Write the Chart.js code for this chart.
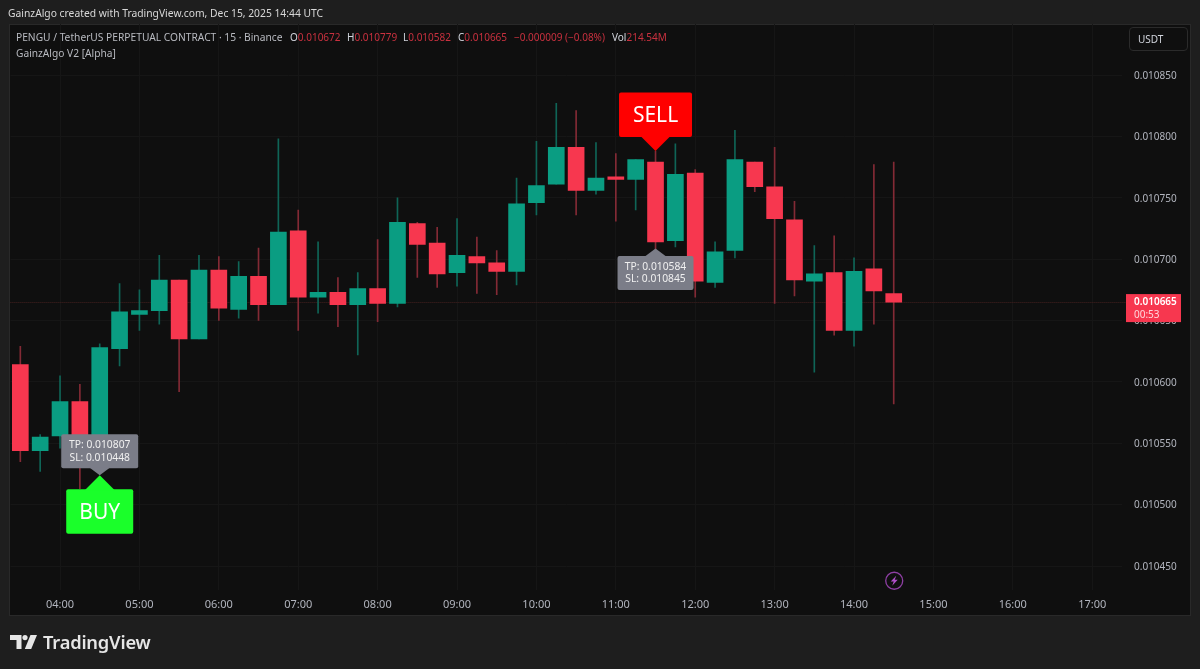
<!DOCTYPE html>
<html>
<head>
<meta charset="utf-8">
<title>PENGU / TetherUS</title>
<script src="https://cdn.jsdelivr.net/npm/chart.js@4"></script>
<style>
  html, body { margin: 0; padding: 0; width: 1200px; height: 669px; overflow: hidden; background: #1e1e1e; }
  body { position: relative; font-family: "Noto Sans", sans-serif; color: #d1d4dc; }
  #panel { position: absolute; left: 9px; top: 24px; width: 1180px; height: 590px; background: #0f0f0f; border: 1px solid #292929; }
  canvas { position: absolute; left: 0; top: 0; }
  .txt { position: absolute; white-space: nowrap; font-size: 10px; line-height: 14px; }
  .red { color: #c9313f; }
  #usdt { position: absolute; left: 1129px; top: 27px; width: 57px; height: 22px; border: 1px solid #2b2b2b; border-radius: 4px;
          font-size: 10px; line-height: 22px; text-indent: 8px; color: #d1d4dc; }
  #logo { position: absolute; left: 10px; top: 635px; }
  #brand { position: absolute; left: 43px; top: 628px; font-size: 18.3px; line-height: 28px; font-weight: 600; color: #e6e6e6; letter-spacing: -0.2px; }
</style>
</head>
<body>
<div id="panel"></div>
<canvas id="chart" width="1200" height="669"></canvas>

<div class="txt" style="left:8px;top:6px;color:#d8d8d8;font-size:10.3px">GainzAlgo created with TradingView.com, Dec 15, 2025 14:44 UTC</div>
<div class="txt" style="left:16px;top:30px;color:#b8bac0;font-size:10.23px">PENGU / TetherUS PERPETUAL CONTRACT · 15 · Binance</div>
<div class="txt" style="left:290px;top:30px">O<span class="red">0.010672</span></div>
<div class="txt" style="left:347px;top:30px">H<span class="red">0.010779</span></div>
<div class="txt" style="left:403px;top:30px">L<span class="red">0.010582</span></div>
<div class="txt" style="left:458px;top:30px">C<span class="red">0.010665</span></div>
<div class="txt red" style="left:514px;top:30px">−0.000009 (−0.08%)</div>
<div class="txt" style="left:612px;top:30px">Vol<span class="red">214.54M</span></div>
<div class="txt" style="left:16px;top:46px;color:#b8bac0;font-size:10.2px">GainzAlgo V2 [Alpha]</div>
<div id="usdt">USDT</div>

<svg id="logo" width="28" height="15" viewBox="0 0 28 15">
  <path fill="#e6e6e6" d="M0 0h11.5v14h-5V5H0z"/>
  <circle fill="#e6e6e6" cx="15" cy="2.6" r="2.6"/>
  <path fill="#e6e6e6" d="M20.5 0H27l-5.8 14h-6.4z"/>
</svg>
<div id="brand">TradingView</div>

<script>
const times = [
  '03:30','03:45','04:00','04:15','04:30','04:45','05:00','05:15','05:30','05:45',
  '06:00','06:15','06:30','06:45','07:00','07:15','07:30','07:45','08:00','08:15',
  '08:30','08:45','09:00','09:15','09:30','09:45','10:00','10:15','10:30','10:45',
  '11:00','11:15','11:30','11:45','12:00','12:15','12:30','12:45','13:00','13:15',
  '13:30','13:45','14:00','14:15','14:30','14:45','15:00','15:15','15:30','15:45',
  '16:00','16:15','16:30','16:45','17:00','17:15'
];
const opens = [
  0.010614,0.010544,0.010556,0.010584,0.010555,0.010627,0.010655,0.010658,0.010683,0.010635,
  0.010691,0.010659,0.010686,0.010663,0.010723,0.010669,0.010673,0.010663,0.010676,0.010664,
  0.010729,0.010713,0.010689,0.010702,0.010697,0.010690,0.010746,0.010761,0.010791,0.010756,
  0.010767,0.010765,0.010779,0.010715,0.010770,0.010681,0.010707,0.010779,0.010759,0.010732,
  0.010682,0.010689,0.010642,0.010692,0.010672
];
const highs = [
  0.010629,0.010557,0.010605,0.010598,0.010631,0.010680,0.010675,0.010703,0.010683,0.010703,
  0.010702,0.010698,0.010709,0.010798,0.010740,0.010714,0.010685,0.010689,0.010716,0.010750,
  0.010730,0.010726,0.010733,0.010718,0.010707,0.010766,0.010796,0.010827,0.010821,0.010795,
  0.010786,0.010781,0.010788,0.010794,0.010773,0.010714,0.010805,0.010779,0.010791,0.010747,
  0.010711,0.010719,0.010701,0.010777,0.010779
];
const lows = [
  0.010535,0.010527,0.010546,0.010513,0.010552,0.010613,0.010642,0.010647,0.010592,0.010635,
  0.010650,0.010652,0.010650,0.010663,0.010642,0.010656,0.010645,0.010622,0.010649,0.010661,
  0.010685,0.010677,0.010678,0.010672,0.010671,0.010679,0.010736,0.010761,0.010736,0.010753,
  0.010731,0.010740,0.010703,0.010710,0.010669,0.010677,0.010701,0.010755,0.010664,0.010670,
  0.010608,0.010638,0.010629,0.010647,0.010582
];
const closes = [
  0.010544,0.010555,0.010584,0.010555,0.010628,0.010657,0.010658,0.010683,0.010635,0.010691,
  0.010660,0.010686,0.010663,0.010722,0.010669,0.010673,0.010663,0.010676,0.010664,0.010730,
  0.010712,0.010688,0.010703,0.010697,0.010690,0.010745,0.010760,0.010791,0.010756,0.010766,
  0.010765,0.010781,0.010714,0.010769,0.010682,0.010706,0.010781,0.010759,0.010733,0.010683,
  0.010688,0.010642,0.010690,0.010674,0.010665
];
const priceTicks = [0.01045,0.0105,0.01055,0.0106,0.01065,0.0107,0.01075,0.0108,0.01085];
const hourLabels = ['04:00','05:00','06:00','07:00','08:00','09:00','10:00','11:00','12:00','13:00','14:00','15:00','16:00','17:00'];

const lastPrice = 0.010665;
const countdown = '00:53';
const buySignal = { time: '04:30', price: 0.010524, tp: 'TP: 0.010807', sl: 'SL: 0.010448' };
const sellSignal = { time: '11:30', price: 0.010788, tp: 'TP: 0.010584', sl: 'SL: 0.010845' };
const alertTime = '14:30';
const alertPrice = 0.010438;

const UP = '#0a9d82', DOWN = '#f7374f';
const UP_WICK = '#0f6557', DOWN_WICK = '#832a35';
const FONT = '"Noto Sans", sans-serif';
Chart.defaults.font.family = FONT;

function roundBox(ctx, x, y, w, h, r) {
  ctx.beginPath();
  ctx.roundRect(x, y, w, h, r);
  ctx.fill();
}

function drawSignal(ctx, scales, sig, side) {
  const x = scales.x.getPixelForValue(times.indexOf(sig.time));
  const tip = scales.y.getPixelForValue(sig.price);
  const dir = side === 'BUY' ? 1 : -1;   // callout hangs below for buy, above for sell
  const boxH = 44.5;
  const boxTop = dir > 0 ? tip + 14 : tip - 14 - boxH;
  const boxW = side === 'BUY' ? 67 : 73;

  ctx.fillStyle = side === 'BUY' ? '#1aff2a' : '#ff0000';
  roundBox(ctx, x - boxW / 2, boxTop, boxW, boxH, 2);
  ctx.beginPath();
  ctx.moveTo(x, tip);
  ctx.lineTo(x - 15, tip + dir * 15);
  ctx.lineTo(x + 15, tip + dir * 15);
  ctx.fill();
  ctx.fillStyle = '#ffffff';
  ctx.font = '21px ' + FONT;
  ctx.textAlign = 'center';
  ctx.textBaseline = 'middle';
  ctx.fillText(side, x, boxTop + boxH / 2 + 1.5);

  // grey TP/SL note sits on the candle side of the callout
  const noteW = side === 'BUY' ? 77 : 76;
  const noteH = 34;
  const noteTip = dir > 0 ? tip : scales.y.getPixelForValue(0.010703) - 7;
  const noteDir = dir > 0 ? -1 : 1;
  const noteTop = dir > 0 ? noteTip - 7 - noteH : noteTip + 7.5;
  ctx.fillStyle = '#7b7d88';
  roundBox(ctx, x - noteW / 2, noteTop, noteW, noteH, 2);
  ctx.beginPath();
  ctx.moveTo(x, noteTip);
  ctx.lineTo(x - 10, noteTip + noteDir * 7.5);
  ctx.lineTo(x + 10, noteTip + noteDir * 7.5);
  ctx.fill();
  ctx.fillStyle = '#f0f0f0';
  ctx.font = '10.3px ' + FONT;
  ctx.fillText(sig.tp, x, noteTop + 11);
  ctx.fillText(sig.sl, x, noteTop + 23.5);
}

const overlayPlugin = {
  id: 'overlay',
  beforeDatasetsDraw(chart) {
    const { ctx, chartArea, scales } = chart;
    const y = scales.y.getPixelForValue(lastPrice);
    ctx.save();
    ctx.strokeStyle = '#45201f';
    ctx.lineWidth = 1;
    ctx.setLineDash([1, 1]);
    ctx.beginPath();
    ctx.moveTo(chartArea.left, Math.round(y) + 0.5);
    ctx.lineTo(chartArea.right + 4, Math.round(y) + 0.5);
    ctx.stroke();
    ctx.restore();
  },
  afterDraw(chart) {
    const { ctx, chartArea, scales } = chart;
    ctx.save();

    drawSignal(ctx, scales, buySignal, 'BUY');
    drawSignal(ctx, scales, sellSignal, 'SELL');

    // last price tag on the axis
    const y = scales.y.getPixelForValue(lastPrice);
    const tagX = chartArea.right + 4;
    ctx.fillStyle = DOWN;
    ctx.fillRect(tagX, y - 8, 55, 28);
    ctx.textAlign = 'left';
    ctx.textBaseline = 'middle';
    ctx.fillStyle = '#ffffff';
    ctx.font = '600 10px ' + FONT;
    ctx.fillText(lastPrice.toFixed(6), tagX + 8, y + 0.5);
    ctx.fillStyle = '#ffd6da';
    ctx.font = '10px ' + FONT;
    ctx.fillText(countdown, tagX + 8, y + 13);

    // lightning alert mark
    const ax = scales.x.getPixelForValue(times.indexOf(alertTime));
    const ay = scales.y.getPixelForValue(alertPrice);
    ctx.strokeStyle = '#8e3fa3';
    ctx.lineWidth = 1.3;
    ctx.beginPath();
    ctx.arc(ax + 0.5, ay, 8.5, 0, Math.PI * 2);
    ctx.stroke();
    ctx.fillStyle = '#b04fc8';
    ctx.beginPath();
    ctx.moveTo(ax + 2.5, ay - 5);
    ctx.lineTo(ax - 3, ay + 0.8);
    ctx.lineTo(ax, ay + 0.8);
    ctx.lineTo(ax - 1.5, ay + 5);
    ctx.lineTo(ax + 4, ay - 1);
    ctx.lineTo(ax + 1, ay - 1);
    ctx.closePath();
    ctx.fill();
    ctx.restore();
  }
};

new Chart(document.getElementById('chart'), {
  type: 'bar',
  data: {
    labels: times,
    datasets: [
      {
        label: 'body',
        data: opens.map((o, i) => [o, closes[i]]),
        backgroundColor: opens.map((o, i) => closes[i] >= o ? UP : DOWN),
        barThickness: 16,
        grouped: false,
        order: 1
      },
      {
        label: 'wick',
        data: lows.map((l, i) => [l, highs[i]]),
        backgroundColor: opens.map((o, i) => closes[i] >= o ? UP_WICK : DOWN_WICK),
        barThickness: 1,
        grouped: false,
        order: 2
      }
    ]
  },
  options: {
    responsive: false,
    animation: false,
    layout: { padding: { left: 10.4, top: 24, right: 0, bottom: 0 } },
    plugins: { legend: { display: false }, tooltip: { enabled: false } },
    scales: {
      x: {
        offset: true,
        border: { display: false },
        grid: { offset: false, color: '#161616', drawTicks: false },
        ticks: {
          autoSkip: false, maxRotation: 0, padding: 8,
          color: '#b2b5be', font: { size: 11 }
        },
        afterBuildTicks(axis) {
          axis.ticks = hourLabels.map(h => ({ value: times.indexOf(h) }));
        },
        afterFit(axis) { axis.height = 79; }
      },
      y: {
        position: 'right',
        min: 0.01043045,
        max: 0.01089155,
        border: { display: false },
        grid: { color: '#161616', drawTicks: false },
        ticks: {
          padding: 12, labelOffset: 1,
          color: '#b2b5be', font: { size: 10 },
          callback: v => v.toFixed(6)
        },
        afterBuildTicks(axis) {
          axis.ticks = priceTicks.map(v => ({ value: v }));
        },
        afterFit(axis) { axis.width = 78; }
      }
    }
  },
  plugins: [overlayPlugin]
});
</script>
</body>
</html>
